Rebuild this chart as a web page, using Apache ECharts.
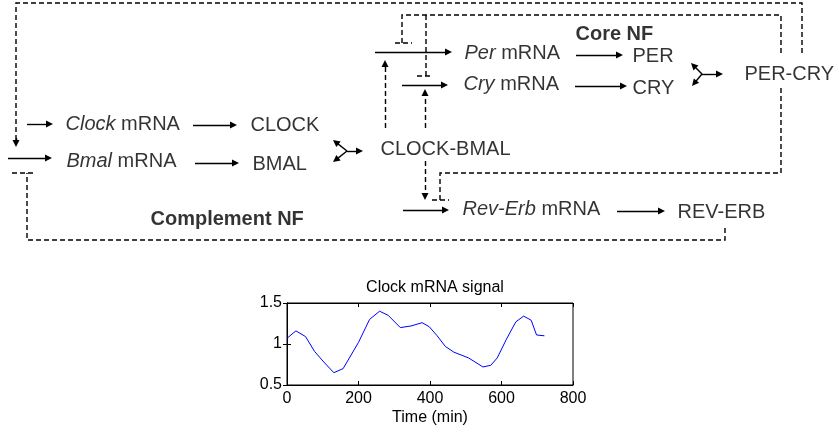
<!DOCTYPE html>
<html><head><meta charset="utf-8">
<script src="https://cdn.jsdelivr.net/npm/echarts@6/dist/echarts.min.js"></script>
<style>html,body{margin:0;padding:0;background:#fff}#c{width:839px;height:436px}</style>
</head><body><div id="c"></div>
<script>
// ---- Chart data (Clock mRNA signal) ----
const timeMin = [0, 25, 52, 77, 103, 131, 157, 200, 231, 259, 283, 317, 347, 378, 398, 420, 443, 467, 508, 548, 570, 588, 614, 640, 662, 683, 698, 720];
const clockSignal = [1.07, 1.16, 1.09, 0.91, 0.78, 0.65, 0.70, 1.02, 1.30, 1.40, 1.35, 1.20, 1.22, 1.26, 1.21, 1.10, 0.97, 0.90, 0.83, 0.72, 0.74, 0.83, 1.06, 1.27, 1.34, 1.29, 1.11, 1.10];
const xTicks = [0, 200, 400, 600, 800];
const yTicks = [0.5, 1, 1.5];
const chartTitle = 'Clock mRNA signal';
const xAxisName = 'Time (min)';

// ---- Diagram content ----
const nodeTexts = ['{i|Clock}{n| mRNA}', '{n|CLOCK}', '{i|Bmal}{n| mRNA}', '{n|BMAL}', '{n|CLOCK-BMAL}',
  '{i|Per}{n| mRNA}', '{n|PER}', '{i|Cry}{n| mRNA}', '{n|CRY}', '{n|PER-CRY}',
  '{i|Rev-Erb}{n| mRNA}', '{n|REV-ERB}', '{b|Core NF}', '{b|Complement NF}'];
// diagram layout (diagram pixel space)
const nodeAnchors = [[65,124],[250,125],[66,161],[252,164],[380,149],
  [464,53],[632,56],[463,84],[632,88],[744,74],
  [462,209],[677,212],[575,34],[150,219]];
const solidArrows = [
  [[27,124],[53,124]], [[8,158],[52,158]],
  [[193,125],[237,125]], [[195,163],[239,163]],
  [[375,52],[452,52]], [[402,85],[448,85]], [[403,210],[449,210]],
  [[576,55],[623,55]], [[575,86],[627,86]], [[617,211],[665,211]],
  [[347,151],[333,140]], [[347,151],[333,162]], [[347,151],[363,151]],
  [[702,74],[691,63]], [[702,74],[692,86]], [[702,74],[723,74]]
];
const dashedPaths = [
  [[802,53],[802,3],[16,3],[16,140]],
  [[781,53],[781,15],[402,15],[402,43]], [[395,43],[412,43]],
  [[426,15],[426,76]], [[417,76],[432,76]],
  [[781,88],[781,173],[440,173],[440,200]], [[432,200],[449,200]],
  [[725,228],[725,240],[27,240],[27,173]], [[12,173],[33,173]]
];
const dashedArrows = [
  [[16,138],[16,147]],
  [[385,128],[385,60]], [[425,128],[425,89]], [[425,161],[425,200]]
];

const AH = 7; // arrow head length
function pullBack(seg) {
  const [a, b] = seg;
  const dx = b[0]-a[0], dy = b[1]-a[1];
  const L = Math.hypot(dx, dy);
  return [a, [b[0]-dx/L*AH/2, b[1]-dy/L*AH/2]];
}

const FONT = '"Liberation Sans", Arial, Helvetica, sans-serif';
const chart = echarts.init(document.getElementById('c'), null, {renderer: 'canvas'});
const rich = {
  n: {fontFamily: FONT, fontSize: 20, color: '#000'},
  i: {fontFamily: FONT, fontSize: 20, color: '#000', fontStyle: 'italic'},
  b: {fontFamily: FONT, fontSize: 20, color: '#000', fontWeight: 'bold'}
};

chart.setOption({
  animation: false,
  backgroundColor: '#fff',
  title: {
    text: chartTitle, left: 430, top: 275, textAlign: 'center',
    textStyle: {fontFamily: FONT, fontSize: 16, fontWeight: 'normal', color: '#000'}
  },
  grid: [
    {left: 287, top: 303, width: 286, height: 82, show: true, borderColor: '#000', borderWidth: 1, containLabel: false},
    {left: 0, top: 0, width: 839, height: 436, containLabel: false}
  ],
  xAxis: [
    {type: 'value', gridIndex: 0, min: xTicks[0], max: xTicks[xTicks.length-1], interval: xTicks[1]-xTicks[0],
     axisLine: {show: true, lineStyle: {color: '#000', width: 1}},
     axisTick: {show: true, inside: true, length: 4, lineStyle: {color: '#000'}},
     axisLabel: {color: '#000', fontFamily: FONT, fontSize: 16, margin: 6, showMinLabel: true, showMaxLabel: true},
     splitLine: {show: false},
     name: xAxisName, nameLocation: 'middle', nameGap: 25,
     nameTextStyle: {color: '#000', fontFamily: FONT, fontSize: 16}},
    {type: 'value', gridIndex: 0, position: 'top', min: xTicks[0], max: xTicks[xTicks.length-1], interval: xTicks[1]-xTicks[0],
     axisLine: {show: true, lineStyle: {color: '#000', width: 1}},
     axisTick: {show: true, inside: true, length: 4, lineStyle: {color: '#000'}},
     axisLabel: {show: false}, splitLine: {show: false}},
    {type: 'value', gridIndex: 1, min: 0, max: 839, show: false}
  ],
  yAxis: [
    {type: 'value', gridIndex: 0, min: yTicks[0], max: yTicks[yTicks.length-1], interval: yTicks[1]-yTicks[0],
     axisLine: {show: true, lineStyle: {color: '#000', width: 1}},
     axisTick: {show: true, inside: true, length: 4, lineStyle: {color: '#000'}},
     axisLabel: {color: '#000', fontFamily: FONT, fontSize: 16, margin: 5, showMinLabel: true, showMaxLabel: true},
     splitLine: {show: false}},
    {type: 'value', gridIndex: 0, position: 'right', min: yTicks[0], max: yTicks[yTicks.length-1], interval: yTicks[1]-yTicks[0],
     axisLine: {show: true, lineStyle: {color: '#000', width: 1}},
     axisTick: {show: true, inside: true, length: 4, lineStyle: {color: '#000'}},
     axisLabel: {show: false}, splitLine: {show: false}},
    {type: 'value', gridIndex: 1, min: 0, max: 436, inverse: true, show: false}
  ],
  series: [
    {type: 'line', xAxisIndex: 0, yAxisIndex: 0, showSymbol: false, symbol: 'none',
     lineStyle: {color: '#0000ff', width: 1}, itemStyle: {color: '#0000ff'},
     data: timeMin.map((t, k) => [t, clockSignal[k]])},
    {type: 'lines', coordinateSystem: 'cartesian2d', xAxisIndex: 2, yAxisIndex: 2, polyline: true,
     lineStyle: {color: '#000', width: 1.4, type: [5, 3], opacity: 1},
     data: dashedPaths.map(c => ({coords: c}))},
    {type: 'lines', coordinateSystem: 'cartesian2d', xAxisIndex: 2, yAxisIndex: 2,
     symbol: ['none', 'triangle'], symbolSize: [6, AH],
     lineStyle: {color: '#000', width: 1.4, type: [5, 3], opacity: 1},
     data: dashedArrows.map(c => ({coords: pullBack(c)}))},
    {type: 'lines', coordinateSystem: 'cartesian2d', xAxisIndex: 2, yAxisIndex: 2,
     symbol: ['none', 'triangle'], symbolSize: [6, AH],
     lineStyle: {color: '#000', width: 1.4, type: 'solid', opacity: 1},
     data: solidArrows.map(c => ({coords: pullBack(c)}))},
    {type: 'scatter', xAxisIndex: 2, yAxisIndex: 2, symbolSize: 1, silent: true,
     itemStyle: {color: 'rgba(0,0,0,0)'},
     label: {show: true, position: 'right', distance: 0, rich: rich, color: '#000'},
     data: nodeAnchors.map((p, k) => ({value: p, label: {formatter: nodeTexts[k]}}))}
  ]
});
</script></body></html>
